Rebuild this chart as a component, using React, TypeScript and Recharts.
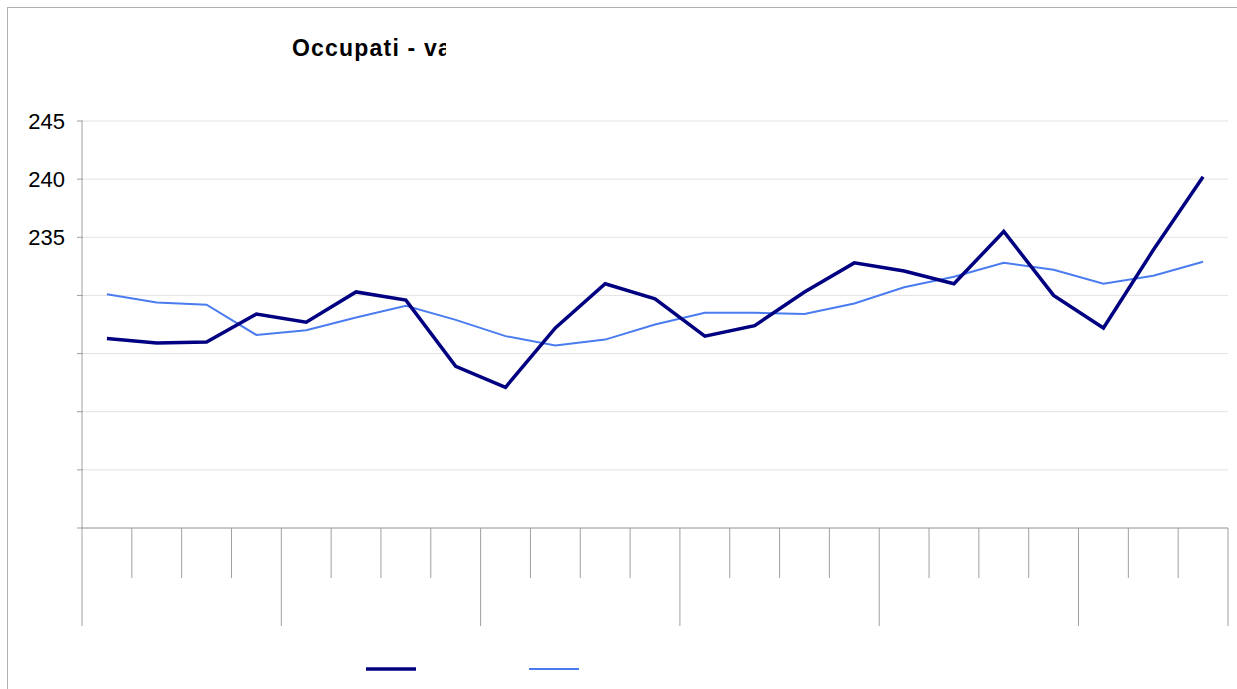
import { LineChart, Line, XAxis, YAxis, CartesianGrid, Legend } from 'recharts';

// quarters, grouped by year (4 + 4 + 4 + 4 + 4 + 3)
const quarters = [
  'Q1-1', 'Q2-1', 'Q3-1', 'Q4-1',
  'Q1-2', 'Q2-2', 'Q3-2', 'Q4-2',
  'Q1-3', 'Q2-3', 'Q3-3', 'Q4-3',
  'Q1-4', 'Q2-4', 'Q3-4', 'Q4-4',
  'Q1-5', 'Q2-5', 'Q3-5', 'Q4-5',
  'Q1-6', 'Q2-6', 'Q3-6',
];
const groupStarts = [0, 4, 8, 12, 16, 20];

const rawValues = [
  226.3, 225.9, 226.0, 228.4, 227.7, 230.3, 229.6, 223.9, 222.1, 227.2, 231.0, 229.7,
  226.5, 227.4, 230.3, 232.8, 232.1, 231.0, 235.5, 230.0, 227.2, 233.9, 240.2,
];
const trendValues = [
  230.1, 229.4, 229.2, 226.6, 227.0, 228.1, 229.1, 227.9, 226.5, 225.7, 226.2, 227.5,
  228.5, 228.5, 228.4, 229.3, 230.7, 231.6, 232.8, 232.2, 231.0, 231.7, 232.9,
];

const yTicks = [210, 215, 220, 225, 230, 235, 240, 245];
const yLabelled = [235, 240, 245];

const data = quarters.map((q, i) => ({ q, raw: rawValues[i], trend: trendValues[i] }));

const W = 1237;
const H = 689;
const PLOT_LEFT = 82;
const PLOT_RIGHT = 1228;
const BAND = (PLOT_RIGHT - PLOT_LEFT) / quarters.length;

const AXIS = '#a0a0a0';
const GRID = '#e3e3e3';
const DARK = '#000080';
const LIGHT = '#4a7cf0';
const FONT = "'Liberation Sans', Arial, sans-serif";

const YTick = (props: any) => {
  const { x, y, payload } = props;
  return (
    <g>
      <line x1={x + 3} x2={x + 9} y1={y} y2={y} stroke={AXIS} />
      {yLabelled.includes(payload.value) && (
        <text x={x - 9} y={y + 8} textAnchor="end" fontSize={22} fill="#000" fontFamily={FONT}>
          {payload.value}
        </text>
      )}
    </g>
  );
};

const XTick = (props: any) => {
  const { x, y, index } = props;
  const left = x - BAND / 2;
  const isGroup = groupStarts.includes(index);
  const isLast = index === quarters.length - 1;
  return (
    <g>
      <line x1={left} x2={left} y1={y - 8} y2={y - 8 + (isGroup ? 98 : 50)} stroke={AXIS} />
      {isLast && (
        <line x1={left + BAND} x2={left + BAND} y1={y - 8} y2={y + 90} stroke={AXIS} />
      )}
    </g>
  );
};

const renderLegend = () => (
  <svg width={W} height={20}>
    <line x1={366} x2={416} y1={9} y2={9} stroke={DARK} strokeWidth={3.5} />
    <line x1={529} x2={579} y1={9} y2={9} stroke={LIGHT} strokeWidth={2} />
  </svg>
);

export default function App() {
  return (
    <div style={{ position: 'absolute', left: 0, top: 0, width: W, height: H, background: '#fff' }}>
      <div style={{
        position: 'absolute', left: 7, top: 7, width: W, height: H,
        borderTop: '1px solid #b0b0b0', borderLeft: '1px solid #b0b0b0',
      }} />
      <div style={{
        position: 'absolute', left: 292, top: 35, width: 154, overflow: 'hidden', whiteSpace: 'nowrap',
        fontFamily: FONT, fontWeight: 'bold', fontSize: 23, letterSpacing: 1.2, color: '#000',
      }}>
        Occupati - va
      </div>
      <LineChart
        width={W}
        height={H}
        data={data}
        margin={{ top: 121, right: W - PLOT_RIGHT, left: 0, bottom: 39 }}
      >
        <CartesianGrid stroke={GRID} vertical={false} />
        <XAxis
          dataKey="q"
          stroke={AXIS}
          tickLine={false}
          tick={<XTick />}
          interval={0}
          height={98}
          padding={{ left: BAND / 2, right: BAND / 2 }}
        />
        <YAxis
          domain={[210, 245]}
          ticks={yTicks}
          stroke={AXIS}
          tickLine={false}
          tick={<YTick />}
          width={PLOT_LEFT}
        />
        <Legend verticalAlign="bottom" content={renderLegend}
          wrapperStyle={{ position: 'absolute', left: 0, top: 660 }} />
        <Line type="linear" dataKey="trend" stroke={LIGHT} strokeWidth={2} dot={false} isAnimationActive={false} />
        <Line type="linear" dataKey="raw" stroke={DARK} strokeWidth={3.5} dot={false} isAnimationActive={false} />
      </LineChart>
    </div>
  );
}
